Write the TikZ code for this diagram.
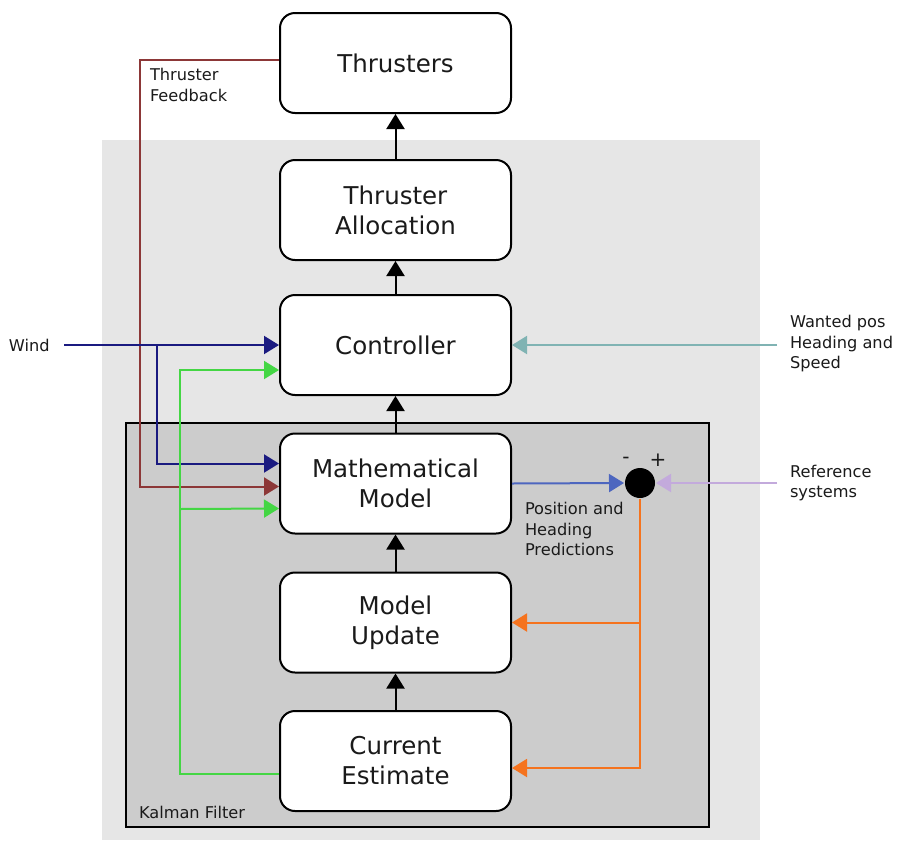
\documentclass[tikz,border=0pt]{standalone}
\usepackage{fontspec}
\setmainfont{DejaVu Sans}
\usetikzlibrary{arrows.meta}
\definecolor{feedbackcol}{RGB}{140,55,55}
\definecolor{windcol}{RGB}{26,26,128}
\definecolor{estimatecol}{RGB}{68,214,68}
\definecolor{wantedcol}{RGB}{128,179,179}
\definecolor{predictioncol}{RGB}{77,102,191}
\definecolor{referencecol}{RGB}{195,170,220}
\definecolor{correctioncol}{RGB}{245,115,30}
\definecolor{outerfill}{RGB}{230,230,230}
\definecolor{kalmanfill}{RGB}{204,204,204}
\definecolor{textgray}{RGB}{26,26,26}
\tikzstyle{block}=[draw, fill=white, rounded corners=15pt, minimum width=231pt, minimum height=100pt, align=center, text=textgray, font=\fontsize{24.5}{30}\selectfont]
\tikzstyle{note}=[align=left, inner sep=0pt, text=textgray, font=\fontsize{16.2}{20.5}\selectfont]
\tikzstyle{flow}=[-{Triangle[length=15pt,width=18pt]}]

\begin{document}
\begin{tikzpicture}[x=1pt, y=-1pt, line width=2pt]
            \useasboundingbox[fill=white] (0,0) rectangle (900,860);
            \fill[outerfill] (102,140) rectangle (760,840);
            \draw[fill=kalmanfill] (126,423) rectangle (709,827);

            \node[block] (thrusters) at (395.5,63) {Thrusters};
            \node[block] (alloc) at (395.5,210) {Thruster\\Allocation};
            \node[block] (ctrl) at (395.5,345) {Controller};
            \node[block] (model) at (395.5,483.5) {Mathematical\\Model};
            \node[block] (update) at (395.5,622.5) {Model\\Update};
            \node[block] (estimate) at (395.5,761) {Current\\Estimate};
            \node[circle, fill=black, minimum size=30pt, inner sep=0pt] (sum) at (640,483) {};

            \node[note, anchor=west] (feedback) at (149,85) {Thruster\\Feedback};
            \node[note, anchor=west] (wind) at (8,345) {Wind};
            \node[note, anchor=west] (wanted) at (789,344) {Wanted pos\\Heading and\\Speed};
            \node[note, anchor=west] (refsys) at (789,483) {Reference\\systems};
            \node[note, anchor=west] (predictions) at (524,529) {Position and\\Heading\\Predictions};
            \node[note, anchor=west] (kalman) at (138,812) {Kalman Filter};
            \node[note, font=\fontsize{20}{22}\selectfont] (minus) at (626,460) {-};
            \node[note, font=\fontsize{20}{22}\selectfont] (plus) at (658,460) {+};

            \coordinate (windin) at (64,345);
            \coordinate (windsplit) at (157,345);
            \coordinate (fbcorner) at (140,200);
            \coordinate (greencorner) at (180,600);
            \coordinate (greensplit) at (180,509);
            \coordinate (wantedin) at (777,345);
            \coordinate (refin) at (777,483);

            \draw[flow] (estimate) -- (update);
            \draw[flow] (update) -- (model);
            \draw[flow] (model) -- (ctrl);
            \draw[flow] (ctrl) -- (alloc);
            \draw[flow] (alloc) -- (thrusters);

            \draw[flow, feedbackcol] ([yshift=3pt]thrusters.west) -| (fbcorner) |- ([yshift=-3pt]model.west);
            \draw[flow, windcol] (windin) -- (ctrl.west);
            \draw[flow, windcol] (windsplit) |- ([yshift=20pt]model.west);
            \draw[flow, estimatecol] ([yshift=-13pt]estimate.west) -| (greencorner) |- ([yshift=-25pt]ctrl.west);
            \draw[flow, estimatecol] (greensplit) -- ([yshift=-25pt]model.west);
            \draw[flow, wantedcol] (wantedin) -- (ctrl.east);
            \draw[flow, predictioncol] (model.east) -- (sum.west);
            \draw[flow, referencecol] (refin) -- (sum.east);
            \draw[flow, correctioncol] (sum.south) |- ([yshift=-7pt]estimate.east);
            \draw[flow, correctioncol] (sum.south |- update.east) -- (update.east);
\end{tikzpicture}
\end{document}
